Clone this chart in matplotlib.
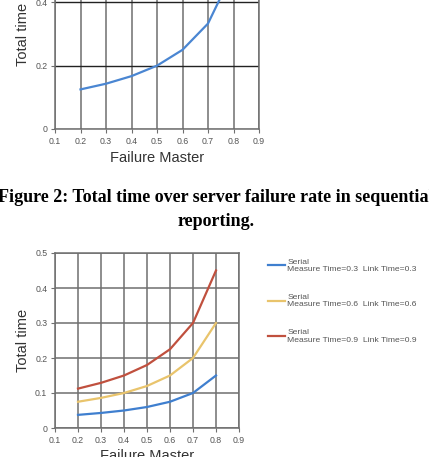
import matplotlib.pyplot as plt

# top chart (cut off at the page top)
x_top = [0.2, 0.3, 0.4, 0.5, 0.6, 0.7, 0.8]
t_top = [0.125, 0.143, 0.167, 0.2, 0.25, 0.333, 0.5]

# bottom chart, three series
x_bot = [0.2, 0.3, 0.4, 0.5, 0.6, 0.7, 0.8]
t_03 = [0.0375, 0.043, 0.05, 0.06, 0.075, 0.1, 0.15]
t_06 = [0.075, 0.086, 0.1, 0.12, 0.15, 0.2, 0.3]
t_09 = [0.1125, 0.129, 0.15, 0.18, 0.225, 0.3, 0.45]
series_labels = ["Serial\nMeasure Time=0.3  Link Time=0.3",
                 "Serial\nMeasure Time=0.6  Link Time=0.6",
                 "Serial\nMeasure Time=0.9  Link Time=0.9"]
series_colors = ["#3f7fcf", "#e9c46c", "#c0503e"]

xticks = [0.1, 0.2, 0.3, 0.4, 0.5, 0.6, 0.7, 0.8, 0.9]
xtick_labels = ["0.1", "0.2", "0.3", "0.4", "0.5", "0.6", "0.7", "0.8", "0.9"]

W, H = 429, 457
fig = plt.figure(figsize=(W / 100, H / 100), dpi=100)
fig.patch.set_facecolor("white")


def px_axes(left, top, right, bottom):
    return fig.add_axes([left / W, 1 - bottom / H, (right - left) / W, (bottom - top) / H])


def dress(ax, ymax, ystep, ylab):
    ax.set_xlim(0.1, 0.9)
    ax.set_ylim(0, ymax)
    ax.set_xticks(xticks)
    ax.set_xticklabels(xtick_labels)
    yt = [round(i * ystep, 2) for i in range(int(round(ymax / ystep)) + 1)]
    ax.set_yticks(yt)
    ax.set_yticklabels(ylab)
    ax.grid(True, color="#6f6f6f", linewidth=1.1)
    for s in ax.spines.values():
        s.set_color("#6f6f6f")
        s.set_linewidth(1.1)
    ax.tick_params(direction="out", length=3, width=0.8, colors="#6f6f6f",
                   labelsize=6.3, labelcolor="#555555", pad=2.5)
    ax.set_xlabel("Failure Master", fontsize=10.5, color="#333333",
                  family="Liberation Sans", labelpad=3.5)
    ax.set_ylabel("Total time", fontsize=10.5, color="#333333",
                  family="Liberation Sans", labelpad=4)
    for lab in ax.get_xticklabels() + ax.get_yticklabels():
        lab.set_family("Liberation Sans")


ax1 = px_axes(55, -61, 259, 129)
ax1.plot(x_top, t_top, color="#4a86d2", linewidth=1.6, zorder=3)
dress(ax1, 0.6, 0.2, ["0", "0.2", "0.4", "0.6"])
ax1.yaxis.grid(True, color="#222222", linewidth=1.0)

fig.text(216 / W, 1 - 198 / H,
         "Figure 2: Total time over server failure rate in sequential",
         ha="center", va="center", fontsize=13, fontweight="bold",
         family="Liberation Serif")
fig.text(216 / W, 1 - 222 / H, "reporting.", ha="center", va="center",
         fontsize=13, fontweight="bold", family="Liberation Serif")

ax2 = px_axes(55, 253, 239, 428)
lines = []
for vals, col in zip([t_03, t_06, t_09], series_colors):
    ln, = ax2.plot(x_bot, vals, color=col, linewidth=1.6, zorder=3)
    lines.append(ln)
dress(ax2, 0.5, 0.1, ["0", "0.1", "0.2", "0.3", "0.4", "0.5"])

leg = fig.legend(lines, series_labels, loc="upper left",
                 bbox_to_anchor=(260 / W, 1 - 251 / H), frameon=False,
                 prop={"family": "Liberation Sans", "size": 6.1},
                 handlelength=2.0, handletextpad=0.3, labelspacing=2.5)
for t in leg.get_texts():
    t.set_color("#555555")
    t.set_linespacing(1.05)

fig.savefig("out.png", dpi=100, facecolor="white")
